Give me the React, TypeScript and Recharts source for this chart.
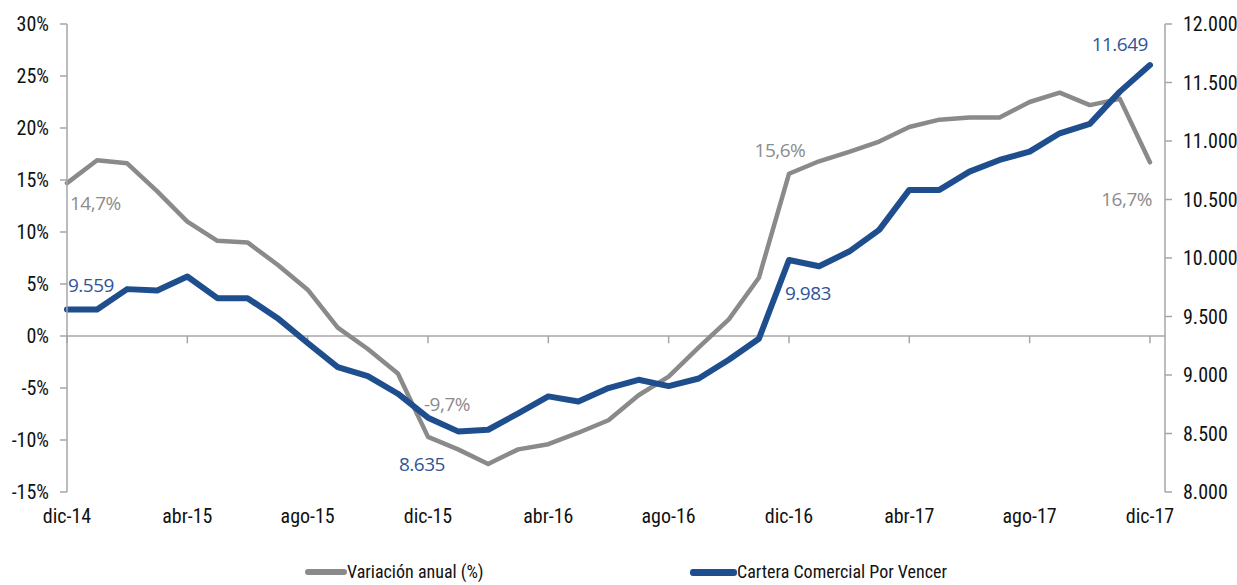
import React from 'react';
import { LineChart, Line, XAxis, YAxis, ReferenceLine, LabelList } from 'recharts';

// Month labels, dic-14 .. dic-17 (37 points)
const MONTHS = [
  'dic-14', 'ene-15', 'feb-15', 'mar-15', 'abr-15', 'may-15', 'jun-15', 'jul-15', 'ago-15', 'sep-15', 'oct-15', 'nov-15',
  'dic-15', 'ene-16', 'feb-16', 'mar-16', 'abr-16', 'may-16', 'jun-16', 'jul-16', 'ago-16', 'sep-16', 'oct-16', 'nov-16',
  'dic-16', 'ene-17', 'feb-17', 'mar-17', 'abr-17', 'may-17', 'jun-17', 'jul-17', 'ago-17', 'sep-17', 'oct-17', 'nov-17',
  'dic-17',
];

// Variación anual (%)
const VARIACION = [
  14.7, 16.9, 16.6, 13.9, 11.0, 9.15, 9.0, 6.85, 4.45, 0.8, -1.25, -3.6,
  -9.7, -10.9, -12.3, -10.9, -10.4, -9.3, -8.1, -5.7, -3.9, -1.1, 1.6, 5.6,
  15.6, 16.8, 17.7, 18.7, 20.1, 20.8, 21.0, 21.0, 22.5, 23.4, 22.2, 22.8,
  16.7,
];

// Cartera Comercial Por Vencer
const CARTERA = [
  9559, 9560, 9734, 9722, 9842, 9657, 9657, 9486, 9273, 9068, 8990, 8840,
  8635, 8518, 8532, 8672, 8817, 8774, 8888, 8959, 8905, 8970, 9130, 9310,
  9983, 9930, 10055, 10240, 10582, 10582, 10738, 10838, 10909, 11066, 11146, 11422,
  11649,
];

const X_TICKS = [0, 4, 8, 12, 16, 20, 24, 28, 32, 36];
const LEFT_TICKS = [-15, -10, -5, 0, 5, 10, 15, 20, 25, 30];
const RIGHT_TICKS = [8000, 8500, 9000, 9500, 10000, 10500, 11000, 11500, 12000];

// which points get a data label, and where the text sits relative to the point
const VAR_LABELS: Record<number, { dx: number; dy: number; anchor: string }> = {
  0: { dx: 3, dy: 20, anchor: 'start' },
  12: { dx: -4, dy: -33, anchor: 'start' },
  24: { dx: -9, dy: -24, anchor: 'middle' },
  36: { dx: 2, dy: 37, anchor: 'end' },
};
const CART_LABELS: Record<number, { dx: number; dy: number; anchor: string }> = {
  0: { dx: 1, dy: -25, anchor: 'start' },
  12: { dx: -6, dy: 46, anchor: 'middle' },
  24: { dx: -4, dy: 33, anchor: 'start' },
  36: { dx: -2, dy: -21, anchor: 'end' },
};

const GRAY = '#8a8a8a';
const BLUE = '#1f4e8e';
const AXIS = '#a6a6a6';
const TICK_FONT = "'Liberation Sans Narrow', 'Roboto Condensed', 'DejaVu Sans Condensed', sans-serif";
const LABEL_FONT = "'Open Sans', 'Noto Sans', sans-serif";

const fmtPct = (v: number) => v.toFixed(1).replace('.', ',') + '%';
const fmtThousands = (v: number) => v.toLocaleString('de-DE');

const data = MONTHS.map((m, i) => ({ idx: i, month: m, variacion: VARIACION[i], cartera: CARTERA[i] }));

const makeLabel = (spec: typeof VAR_LABELS, color: string, fmt: (v: number) => string) => (props: any) => {
  const { x, y, index, value } = props;
  const s = spec[index];
  if (!s) return null;
  return (
    <text
      x={x + s.dx}
      y={y + s.dy}
      textAnchor={s.anchor as any}
      dominantBaseline="central"
      fill={color}
      fontFamily={LABEL_FONT}
      fontSize={19}
      letterSpacing={-0.5}
    >
      {fmt(value)}
    </text>
  );
};

const tickStyle = { fill: '#111', fontSize: 20, fontFamily: TICK_FONT };

export default function App() {
  return (
    <div style={{ position: 'absolute', left: 0, top: 0, width: 1237, height: 585, background: '#fff', overflow: 'hidden' }}>
      <LineChart width={1237} height={585} data={data} margin={{ top: 24, right: 0, bottom: 63, left: 7 }}>
        <XAxis
          dataKey="idx"
          type="number"
          domain={[0, 36.5]}
          ticks={X_TICKS}
          tickFormatter={(i: number) => MONTHS[i] ?? ''}
          axisLine={false}
          tickLine={false}
          tickSize={6}
          tickMargin={11}
          height={30}
          tick={tickStyle}
          interval={0}
        />
        <YAxis
          yAxisId="left"
          domain={[-15, 30]}
          ticks={LEFT_TICKS}
          tickFormatter={(v: number) => `${v}%`}
          width={60}
          axisLine={{ stroke: AXIS, strokeWidth: 1.5 }}
          tickLine={{ stroke: AXIS, strokeWidth: 1.5 }}
          tickSize={7}
          tickMargin={11}
          tick={tickStyle}
          interval={0}
        />
        <YAxis
          yAxisId="right"
          orientation="right"
          domain={[8000, 12000]}
          ticks={RIGHT_TICKS}
          tickFormatter={fmtThousands}
          width={72}
          axisLine={{ stroke: AXIS, strokeWidth: 1.5 }}
          tickLine={{ stroke: AXIS, strokeWidth: 1.5 }}
          tickSize={7}
          tickMargin={11}
          tick={tickStyle}
          interval={0}
        />
        <ReferenceLine yAxisId="left" y={0} stroke={AXIS} strokeWidth={1.5} />
        {X_TICKS.map(t => (
          <ReferenceLine
            key={t}
            yAxisId="left"
            segment={[{ x: t, y: 0 }, { x: t, y: -0.7 }]}
            stroke={AXIS}
            strokeWidth={1.5}
          />
        ))}
        <Line
          yAxisId="left"
          dataKey="variacion"
          stroke={GRAY}
          strokeWidth={4.5}
          dot={false}
          strokeLinejoin="round"
          strokeLinecap="round"
          isAnimationActive={false}
        >
          <LabelList dataKey="variacion" content={makeLabel(VAR_LABELS, '#8c8c8c', fmtPct)} />
        </Line>
        <Line
          yAxisId="right"
          dataKey="cartera"
          stroke={BLUE}
          strokeWidth={6}
          dot={false}
          strokeLinejoin="round"
          strokeLinecap="round"
          isAnimationActive={false}
        >
          <LabelList dataKey="cartera" content={makeLabel(CART_LABELS, '#2f5597', fmtThousands)} />
        </Line>
      </LineChart>
      <div
        style={{
          position: 'absolute',
          top: 561,
          left: 0,
          width: 1237,
          fontFamily: TICK_FONT,
          fontSize: 18,
          color: '#111',
          lineHeight: '22px',
          whiteSpace: 'nowrap',
        }}
      >
        <span style={{ position: 'absolute', left: 305, top: 0, display: 'flex', alignItems: 'center' }}>
          <span style={{ display: 'inline-block', width: 42, height: 6, background: GRAY, borderRadius: 3 }} />
          <span>Variación anual (%)</span>
        </span>
        <span style={{ position: 'absolute', left: 690, top: 0, display: 'flex', alignItems: 'center' }}>
          <span style={{ display: 'inline-block', width: 47, height: 7, background: BLUE, borderRadius: 3 }} />
          <span>Cartera Comercial Por Vencer</span>
        </span>
      </div>
    </div>
  );
}
